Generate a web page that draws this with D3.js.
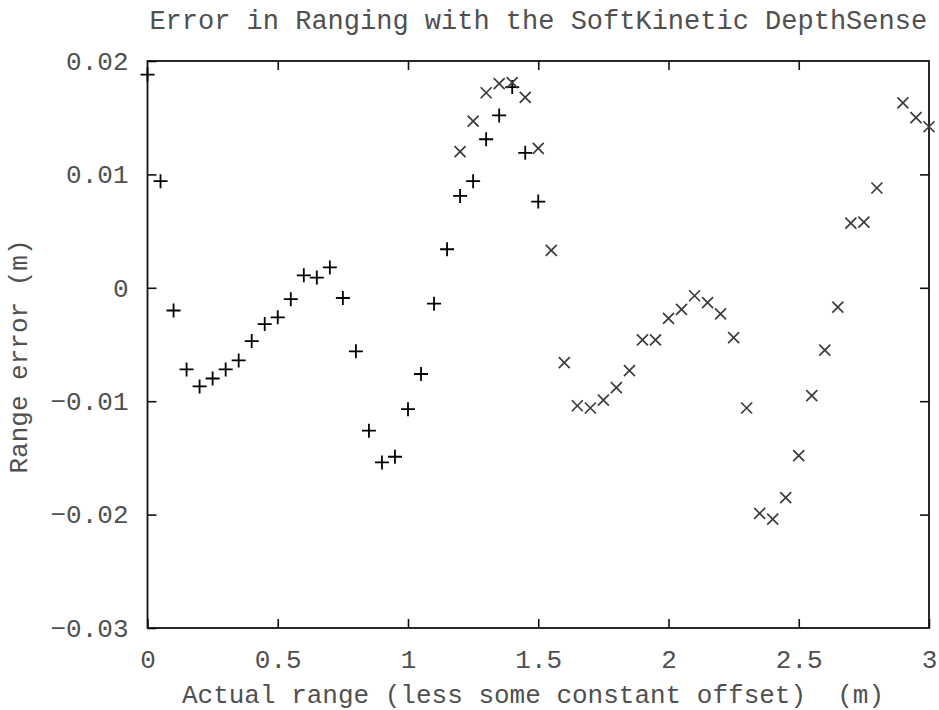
<!DOCTYPE html>
<html>
<head>
<meta charset="utf-8">
<script src="https://cdn.jsdelivr.net/npm/d3@7"></script>
<style>
  body { margin: 0; background: #fff; }
  text { font-family: "Liberation Mono", "DejaVu Sans Mono", monospace; fill: #505050; }
</style>
</head>
<body>
<div id="chart"></div>
<script>
// series "+" : 0 .. 1.5 m
var plusX = [0, 0.05, 0.1, 0.15, 0.2, 0.25, 0.3, 0.35, 0.4, 0.45, 0.5, 0.55, 0.6, 0.65, 0.7, 0.75,
	0.8, 0.85, 0.9, 0.95, 1.0, 1.05, 1.1, 1.15, 1.2, 1.25, 1.3, 1.35, 1.4, 1.45, 1.5];
var plusY = [0.0188, 0.0094, -0.0020, -0.0072, -0.0087, -0.0080, -0.0072, -0.0064, -0.0047, -0.0032,
	-0.0026, -0.0010, 0.0011, 0.0009, 0.0018, -0.0009, -0.0056, -0.0126, -0.0154, -0.0149,
	-0.0107, -0.0076, -0.0014, 0.0034, 0.0081, 0.0094, 0.0131, 0.0152, 0.0177, 0.0119, 0.0076];

// series "x" : 1.2 .. 3 m (2.85 missing)
var crossX = [1.2, 1.25, 1.3, 1.35, 1.4, 1.45, 1.5, 1.55, 1.6, 1.65, 1.7, 1.75, 1.8, 1.85, 1.9, 1.95,
	2.0, 2.05, 2.1, 2.15, 2.2, 2.25, 2.3, 2.35, 2.4, 2.45, 2.5, 2.55, 2.6, 2.65, 2.7, 2.75, 2.8,
	2.9, 2.95, 3.0];
var crossY = [0.0120, 0.0147, 0.0172, 0.0180, 0.0181, 0.0168, 0.0123, 0.0033, -0.0066, -0.0104,
	-0.0106, -0.0099, -0.0088, -0.0073, -0.0046, -0.0046, -0.0027, -0.0019, -0.0007, -0.0013,
	-0.0023, -0.0044, -0.0106, -0.0199, -0.0204, -0.0185, -0.0148, -0.0095, -0.0055, -0.0017,
	0.0057, 0.0058, 0.0088, 0.0163, 0.0150, 0.0142];

var xTicks = [0, 0.5, 1, 1.5, 2, 2.5, 3];
var yTicks = [0.02, 0.01, 0, -0.01, -0.02, -0.03];

var width = 939, height = 710;
var margin = {left: 147.5, right: 10, top: 61, bottom: 82};
var plotW = width - margin.left - margin.right;
var plotH = height - margin.top - margin.bottom;

var svg = d3.select("#chart").append("svg")
	.attr("width", width)
	.attr("height", height);

var x = d3.scaleLinear().domain([0, 3]).range([0, plotW]);
var y = d3.scaleLinear().domain([-0.03, 0.02]).range([plotH, 0]);

var g = svg.append("g")
	.attr("transform", "translate(" + margin.left + "," + margin.top + ")");

var tickLen = 9;
var fmt = function(v){ return v === 0 ? "0" : String(v).replace("-", "\u2212"); };

// axes: ticks inward, mirrored on opposite sides
var xBottom = g.append("g").attr("transform", "translate(0," + plotH + ")")
	.call(d3.axisBottom(x).tickValues(xTicks).tickSize(-tickLen).tickPadding(tickLen + 13).tickFormat(fmt));
var xTop = g.append("g")
	.call(d3.axisTop(x).tickValues(xTicks.slice(1, -1)).tickSize(-tickLen).tickFormat(""));
var yLeft = g.append("g")
	.call(d3.axisLeft(y).tickValues(yTicks).tickSize(-tickLen).tickPadding(tickLen + 10).tickFormat(function(v){
		return v === 0 ? "0" : d3.format(".2f")(v).replace("-", "\u2212");
	}));
var yRight = g.append("g").attr("transform", "translate(" + plotW + ",0)")
	.call(d3.axisRight(y).tickValues(yTicks.slice(1, -1)).tickSize(-tickLen).tickFormat(""));

[xBottom, xTop, yLeft, yRight].forEach(function(a){
	a.select(".domain").remove();
	a.selectAll("line").attr("stroke", "#111").attr("stroke-width", 1.6);
	a.selectAll("text").attr("font-size", 26).attr("fill", "#505050");
});

// frame
g.append("rect")
	.attr("width", plotW)
	.attr("height", plotH)
	.attr("fill", "none")
	.attr("stroke", "#111")
	.attr("stroke-width", 1.8);

// "+" markers
var ps = 7;
g.append("g").selectAll("path")
	.data(plusX.map(function(v, i){ return [v, plusY[i]]; }))
	.join("path")
	.attr("d", function(d){
		var cx = x(d[0]), cy = y(d[1]);
		return "M" + (cx - ps) + "," + cy + "H" + (cx + ps) + "M" + cx + "," + (cy - ps) + "V" + (cy + ps);
	})
	.attr("stroke", "#000")
	.attr("stroke-width", 1.8);

// "x" markers
var cs = 5.5;
g.append("g").selectAll("path")
	.data(crossX.map(function(v, i){ return [v, crossY[i]]; }))
	.join("path")
	.attr("d", function(d){
		var cx = x(d[0]), cy = y(d[1]);
		return "M" + (cx - cs) + "," + (cy - cs) + "L" + (cx + cs) + "," + (cy + cs) +
			"M" + (cx - cs) + "," + (cy + cs) + "L" + (cx + cs) + "," + (cy - cs);
	})
	.attr("stroke", "#3c3c3c")
	.attr("stroke-width", 1.7);

// title and axis labels
svg.append("text")
	.attr("x", margin.left + plotW / 2)
	.attr("y", 29)
	.attr("text-anchor", "middle")
	.attr("font-size", 27)
	.text("Error in Ranging with the SoftKinetic DepthSense");

svg.append("text")
	.attr("x", 533)
	.attr("y", 703)
	.attr("text-anchor", "middle")
	.attr("font-size", 26)
	.attr("xml:space", "preserve")
	.text("Actual range (less some constant offset)  (m)");

svg.append("text")
	.attr("transform", "translate(27," + (margin.top + plotH / 2 + 12) + ") rotate(-90)")
	.attr("text-anchor", "middle")
	.attr("font-size", 26)
	.text("Range error (m)");
</script>
</body>
</html>
